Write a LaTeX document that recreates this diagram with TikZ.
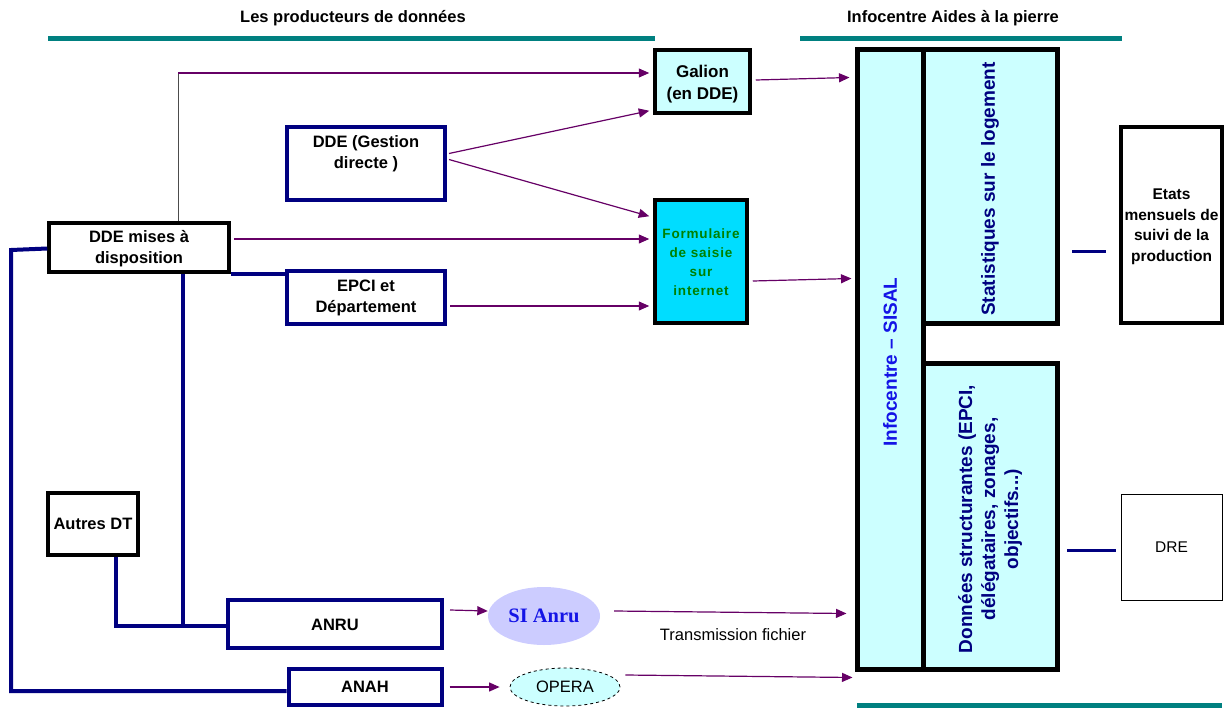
\documentclass[tikz,border=0pt]{standalone}
\usepackage{fontspec}
\setmainfont{Liberation Sans}
\newfontfamily\serifbf{Liberation Serif}
\newfontfamily\spacedsans[LetterSpace=6]{Liberation Sans}
\usetikzlibrary{arrows.meta,shapes.geometric,calc}
\definecolor{hdrteal}{RGB}{0,128,128}
\definecolor{navyc}{RGB}{0,0,128}
\definecolor{purp}{RGB}{102,0,102}
\definecolor{lcyan}{RGB}{204,255,255}
\definecolor{fcyan}{RGB}{0,221,255}
\definecolor{greenc}{RGB}{0,128,0}
\definecolor{bluec}{RGB}{20,20,230}
\definecolor{lav}{RGB}{204,204,255}
\tikzset{
  navybox/.style={draw=navyc, line width=4pt, fill=white, inner sep=0pt},
  blkbox/.style={draw=black, line width=3.5pt, inner sep=0pt},
  bigbox/.style={draw=black, line width=5pt, fill=lcyan, inner sep=0pt},
  arr/.style={draw=purp, line width=1.2pt, -{Triangle[length=10.5pt,width=9pt]}},
  navyline/.style={draw=navyc, line width=4pt},
  hdrline/.style={draw=hdrteal, line width=5pt},
  lbl/.style={align=center, font=\fontsize{16.5}{21}\selectfont\bfseries, inner sep=0pt},
}
\begin{document}
\begin{tikzpicture}[x=1pt,y=-1pt]
\useasboundingbox (0,0) rectangle (1228,709);
% headers
\node[lbl, font=\fontsize{16.5}{20}\selectfont\bfseries] (h1) at (353,18) {Les producteurs de données};
\node[lbl, font=\fontsize{16.5}{20}\selectfont\bfseries] (h2) at (953,18) {Infocentre Aides à la pierre};
\draw[hdrline] (48,39) -- (655,39);
\draw[hdrline] (800,39) -- (1122,39);
\draw[hdrline] (857,705) -- (1222,705);

% left boxes
\node[navybox, minimum width=158pt, minimum height=73pt] (ddeg) at (366,163.5) {};
\node[lbl] (ddegt) at (366,154) {DDE (Gestion\\directe )};
\node[navybox, minimum width=158pt, minimum height=53pt] (epci) at (366,297.5) {};
\node[lbl] (epcit) at (366,297.5) {EPCI et\\Département};
\node[blkbox, fill=white, minimum width=180pt, minimum height=49pt] (ddem) at (139,247.5) {};
\node[lbl] (ddemt) at (139,249) {DDE mises à\\disposition};
\node[blkbox, fill=white, minimum width=90pt, minimum height=62pt] (autres) at (93,524) {};
\node[lbl] (autrest) at (93,524) {Autres DT};
\node[navybox, minimum width=214pt, minimum height=48pt] (anru) at (335,624) {};
\node[lbl] (anrut) at (335,625) {ANRU};
\node[navybox, minimum width=153pt, minimum height=36pt] (anah) at (365,687) {};
\node[lbl] (anaht) at (365,687) {ANAH};

% ellipses
\node[ellipse, fill=lav, minimum width=112pt, minimum height=58pt, inner sep=0pt,
      font=\fontsize{20.5}{24}\selectfont\serifbf\bfseries, text=bluec] (si) at (544,616) {SI Anru};
\node[ellipse, draw=black, dashed, line width=0.8pt, fill=lcyan, minimum width=110pt, minimum height=38pt, inner sep=0pt,
      font=\fontsize{16.5}{20}\selectfont] (opera) at (565,687) {OPERA};

% middle boxes
\node[blkbox, fill=lcyan, minimum width=95pt, minimum height=63pt] (gal) at (702.5,81.5) {};
\node[lbl, font=\fontsize{17}{22}\selectfont\bfseries] (galt) at (702.5,84) {Galion\\(en DDE)};
\node[blkbox, fill=fcyan, minimum width=92pt, minimum height=123pt] (form) at (701,261.5) {};
\node[align=center, inner sep=0pt, text=greenc, font=\fontsize{13.5}{19}\selectfont\spacedsans\bfseries] (formt) at (701,262) {Formulaire\\de saisie\\sur\\internet};

% infocentre
\node[bigbox, minimum width=66pt, minimum height=619pt] (info) at (890,359.5) {};
\node[rotate=90, inner sep=0pt, text=bluec, font=\fontsize{19}{23}\selectfont\bfseries] (infot) at (890,362) {Infocentre – SISAL};
\node[bigbox, minimum width=134pt, minimum height=273pt] (stat) at (990,186.5) {};
\node[rotate=90, inner sep=0pt, text=navyc, font=\fontsize{19}{23}\selectfont\bfseries] (statt) at (990,189) {Statistiques sur le logement};
\node[bigbox, minimum width=134pt, minimum height=306pt] (donn) at (990,516) {};
\node[rotate=90, align=center, inner sep=0pt, text=navyc, font=\fontsize{19}{23}\selectfont\bfseries] (donnt) at (990,519) {Données structurantes (EPCI,\\délégataires, zonages,\\objectifs...)};

% right boxes
\node[draw=black, line width=3.5pt, fill=white, minimum width=101pt, minimum height=196pt, inner sep=0pt] (etats) at (1171.5,225) {};
\node[lbl, font=\fontsize{15.5}{20.5}\selectfont\bfseries] (etatst) at (1171.5,227) {Etats\\mensuels de\\suivi de la\\production};
\node[draw=black, line width=1pt, fill=white, minimum width=101pt, minimum height=106pt, inner sep=0pt,
      font=\fontsize{15.5}{19}\selectfont] (dre) at (1171.5,547) {DRE};

% short navy lines
\coordinate (s1a) at (1072,251);
\coordinate (s1b) at (1106,251);
\coordinate (s2a) at (1067,550);
\coordinate (s2b) at (1116,550);
\draw[navyline, line width=3pt] (s1a) -- (s1b);
\draw[navyline, line width=3pt] (s2a) -- (s2b);

% navy connectors
\coordinate (tl) at (11,250);
\coordinate (bl) at (11,691);
\draw[navyline] ([yshift=-1pt]ddem.west) -- (tl) -- (bl) -- ([yshift=-4pt]anah.west);
\draw[navyline] ([xshift=44pt]ddem.south) |- ([yshift=-2pt]anru.west);
\draw[navyline] ([xshift=23pt]autres.south) |- ([yshift=-2pt]anru.west);
\draw[navyline] (ddem.south east) -- (ddem.south east -| epci.west);

% thin vertical + purple arrows
\coordinate (turn) at (178,73);
\draw[draw=black!70, line width=0.8pt] ([xshift=39pt]ddem.north) -- (turn);
\draw[arr] (turn) -- ([xshift=-4pt,yshift=8.5pt]gal.west);
\draw[arr] ([xshift=2pt,yshift=10pt]ddeg.east) -- ([xshift=-4pt,yshift=4pt]gal.south west);
\draw[arr] ([xshift=2pt,yshift=4pt]ddeg.east) -- ([xshift=-4pt,yshift=-18pt]form.north west);
\draw[arr] ([xshift=3pt,yshift=8.5pt]ddem.east) -- ([xshift=-4pt,yshift=22.5pt]form.west);
\draw[arr] ([xshift=3pt,yshift=-8.5pt]epci.east) -- ([xshift=-4pt,yshift=-44.5pt]form.west);
\draw[arr] ([xshift=4pt,yshift=1.5pt]gal.east) -- ([xshift=-5pt,yshift=-30pt]info.north west);
\draw[arr] ([xshift=4pt,yshift=-19.5pt]form.east) -- ([xshift=-3pt,yshift=-231pt]info.north west);
\draw[arr] ([xshift=6pt,yshift=14pt]anru.east) -- ([yshift=5pt]si.west);
\draw[arr] ([xshift=14pt,yshift=5pt]si.east) -- ([xshift=-8pt,yshift=58pt]info.south west);
\draw[arr] ([xshift=6pt]anah.east) -- ([xshift=-10pt]opera.west);
\draw[arr] ([xshift=5pt,yshift=12pt]opera.east) -- ([xshift=-2pt,yshift=-6pt]info.south west);
\node[inner sep=0pt, font=\fontsize{16.5}{20}\selectfont] (trans) at (733,635) {Transmission fichier};
\end{tikzpicture}
\end{document}
